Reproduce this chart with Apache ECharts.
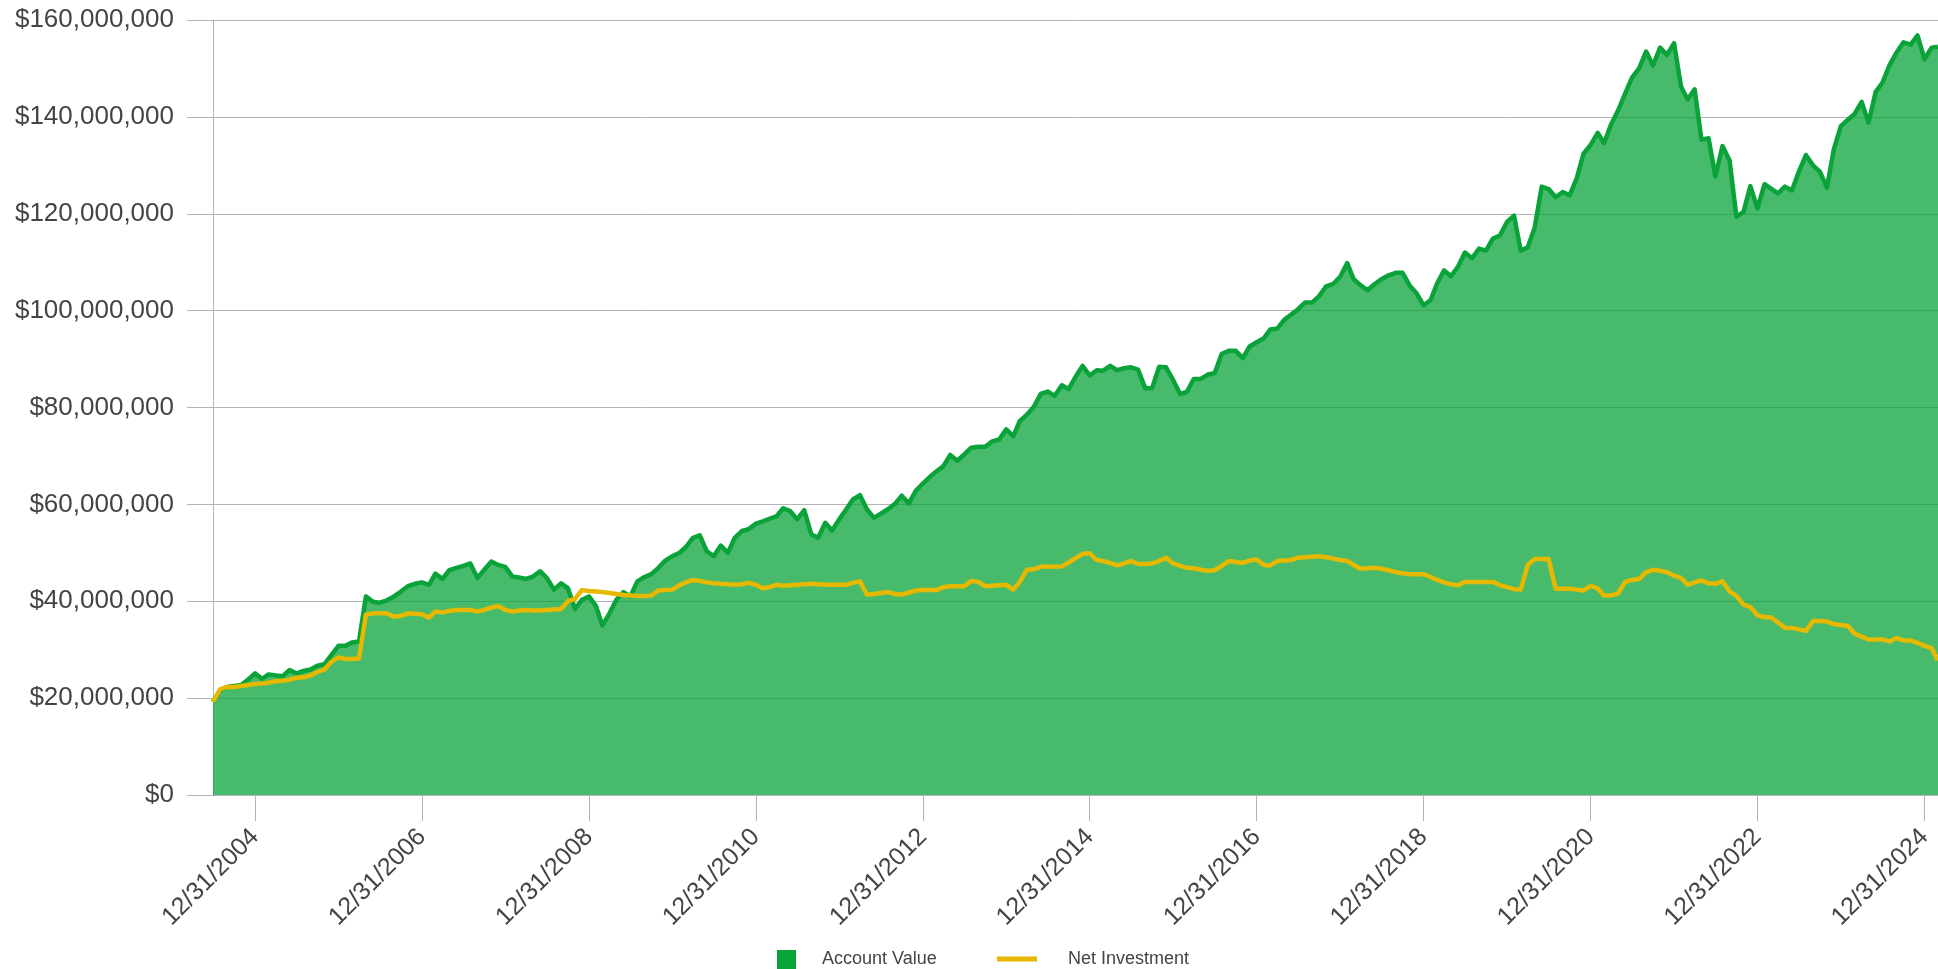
<!DOCTYPE html>
<html>
<head>
<meta charset="utf-8">
<style>
  html, body { margin: 0; padding: 0; background: #ffffff; }
  #chart { width: 1938px; height: 969px; }
</style>
<script src="https://cdn.jsdelivr.net/npm/echarts@6/dist/echarts.min.js"></script>
</head>
<body>
<div id="chart"></div>
<script>
// Monthly series, month-end values starting June 2004 (values in millions of dollars)
const startYear = 2004;
const startMonth = 6; // June

const accountValue = [
  19.2, 21.6, 22.3, 22.5, 22.7, 23.8, 25.1, 24.0, 24.9, 24.7, 24.5, 25.8,
  25.1, 25.6, 25.9, 26.7, 27.0, 28.9, 30.8, 30.8, 31.5, 31.7, 41.0, 39.9,
  39.7, 40.2, 41.0, 42.0, 43.1, 43.6, 43.9, 43.4, 45.7, 44.6, 46.4, 46.9,
  47.3, 47.8, 44.8, 46.5, 48.2, 47.5, 47.1, 45.1, 44.9, 44.6, 45.1, 46.2,
  44.8, 42.4, 43.7, 42.7, 38.4, 40.3, 41.0, 39.0, 35.0, 37.5, 40.3, 41.9,
  41.0, 44.1, 45.0, 45.6, 46.9, 48.4, 49.3, 50.0, 51.2, 53.1, 53.6, 50.3,
  49.3, 51.5, 50.0, 53.1, 54.5, 54.9, 56.0, 56.5, 57.0, 57.5, 59.2, 58.6,
  56.9, 58.8, 53.8, 53.1, 56.2, 54.6, 56.9, 59.0, 61.0, 61.9, 59.0, 57.2,
  58.1, 59.0, 60.1, 61.8, 60.2, 62.8, 64.3, 65.7, 66.8, 67.9, 70.2, 69.0,
  70.3, 71.7, 71.9, 71.9, 73.0, 73.4, 75.5, 74.1, 77.2, 78.5, 80.1, 82.8,
  83.3, 82.4, 84.6, 83.8, 86.4, 88.6, 86.6, 87.7, 87.6, 88.6, 87.7, 88.1,
  88.3, 87.8, 84.0, 84.0, 88.4, 88.3, 85.7, 82.8, 83.2, 85.9, 85.9, 86.8,
  87.1, 91.1, 91.7, 91.7, 90.2, 92.6, 93.5, 94.3, 96.1, 96.3, 98.1, 99.2,
  100.3, 101.7, 101.7, 103.0, 105.0, 105.5, 107.0, 109.8, 106.5, 105.2, 104.2, 105.5,
  106.5, 107.3, 107.8, 107.8, 105.2, 103.6, 101.1, 102.2, 105.6, 108.3, 107.1, 109.1,
  112.0, 110.8, 112.8, 112.4, 114.9, 115.5, 118.3, 119.6, 112.4, 113.1, 117.1, 125.6,
  125.1, 123.4, 124.5, 123.8, 127.3, 132.4, 134.2, 136.7, 134.6, 138.5, 141.3, 144.8,
  148.1, 150.0, 153.5, 150.6, 154.3, 152.8, 155.2, 146.2, 143.6, 145.7, 135.3, 135.6,
  127.7, 134.0, 131.0, 119.4, 120.4, 125.7, 121.1, 126.1, 125.2, 124.2, 125.6, 124.8,
  128.7, 132.1, 130.0, 128.7, 125.4, 133.3, 138.1, 139.4, 140.6, 143.1, 138.8, 145.1,
  147.1, 150.7, 153.3, 155.4, 154.9, 156.8, 151.9, 154.3, 154.5
];

const netInvestment = [
  19.2, 21.8, 22.3, 22.3, 22.5, 22.7, 22.9, 23.0, 23.2, 23.5, 23.6, 23.8,
  24.2, 24.3, 24.7, 25.4, 25.9, 27.5, 28.4, 28.1, 28.1, 28.2, 37.2, 37.5,
  37.5, 37.5, 36.8, 37.0, 37.5, 37.4, 37.3, 36.6, 37.9, 37.7, 38.0, 38.2,
  38.2, 38.2, 37.9, 38.2, 38.7, 39.0, 38.2, 37.9, 38.1, 38.2, 38.1, 38.1,
  38.2, 38.3, 38.4, 40.0, 40.5, 42.3, 42.1, 42.0, 41.9, 41.7, 41.5, 41.3,
  41.2, 41.1, 41.1, 41.2, 42.2, 42.3, 42.4, 43.3, 43.9, 44.4, 44.2, 43.9,
  43.7, 43.6, 43.5, 43.4, 43.5, 43.8, 43.4, 42.7, 42.9, 43.4, 43.2, 43.3,
  43.4, 43.5, 43.6, 43.5, 43.4, 43.4, 43.4, 43.4, 43.8, 44.1, 41.4, 41.5,
  41.7, 41.9, 41.5, 41.4, 41.8, 42.2, 42.3, 42.3, 42.3, 42.9, 43.1, 43.1,
  43.1, 44.2, 44.0, 43.1, 43.2, 43.3, 43.4, 42.4, 44.0, 46.5, 46.6, 47.1,
  47.2, 47.1, 47.2, 48.0, 48.9, 49.8, 49.9, 48.5, 48.3, 47.9, 47.4, 47.8,
  48.3, 47.7, 47.7, 47.8, 48.3, 49.0, 47.8, 47.3, 46.9, 46.8, 46.5, 46.3,
  46.4, 47.3, 48.3, 48.1, 47.9, 48.4, 48.6, 47.5, 47.4, 48.3, 48.4, 48.5,
  49.0, 49.1, 49.2, 49.3, 49.1, 48.8, 48.5, 48.3, 47.5, 46.7, 46.8, 46.9,
  46.7, 46.4, 46.0, 45.8, 45.6, 45.6, 45.6, 45.0, 44.4, 43.9, 43.5, 43.3,
  44.0, 44.0, 44.0, 44.0, 44.0, 43.3, 42.9, 42.5, 42.4, 47.5, 48.7, 48.7,
  48.7, 42.6, 42.6, 42.6, 42.4, 42.2, 43.2, 42.6, 41.2, 41.2, 41.6, 44.0,
  44.4, 44.6, 46.0, 46.5, 46.3, 46.0, 45.3, 44.8, 43.4, 43.9, 44.3, 43.7,
  43.6, 44.1, 42.0, 41.1, 39.3, 38.8, 37.1, 36.7, 36.7, 35.6, 34.5, 34.5,
  34.2, 33.9, 35.9, 35.9, 35.8, 35.3, 35.1, 34.9, 33.3, 32.7, 32.1, 32.1,
  32.1, 31.7, 32.4, 31.9, 31.9, 31.4, 30.8, 30.3, 27.8
];

// Tick label years (each label is 12/31 of that year)
const tickYears = [2004, 2006, 2008, 2010, 2012, 2014, 2016, 2018, 2020, 2022, 2024];

// Build month-end timestamps
function monthEnd(i) {
  const mi = (startMonth - 1) + i;
  const y = startYear + Math.floor(mi / 12);
  const m = mi % 12;
  return Date.UTC(y, m + 1, 0);
}
const greenData = accountValue.map((v, i) => [monthEnd(i), v * 1e6]);
const yellowData = netInvestment.map((v, i) => [monthEnd(i), v * 1e6]);
const tickValues = tickYears.map(y => Date.UTC(y, 11, 31));

const FONT = '"Liberation Sans", Arial, sans-serif';
const GREEN = '#0aa33a';
const YELLOW = '#e6b800';
const GRID = '#b4b4b4';

const chart = echarts.init(document.getElementById('chart'));
chart.setOption({
  animation: false,
  backgroundColor: '#ffffff',
  grid: {
    left: 213, right: 0, top: 20, bottom: 174,
    containLabel: false,
    outerBoundsMode: 'none'
  },
  legend: [
    {
      data: [{ name: 'Account Value', icon: 'rect', itemStyle: { color: GREEN } }],
      left: 772, top: 945,
      itemWidth: 19, itemHeight: 19,
      textStyle: { fontFamily: FONT, fontSize: 18, color: '#444', padding: [0, 0, 0, 21] },
      selectedMode: false
    },
    {
      data: [{ name: 'Net Investment', icon: 'rect', itemStyle: { color: YELLOW } }],
      left: 992, top: 945,
      itemWidth: 40, itemHeight: 5,
      textStyle: { fontFamily: FONT, fontSize: 18, color: '#444', padding: [0, 0, 0, 26] },
      selectedMode: false
    }
  ],
  xAxis: {
    type: 'value',
    min: Date.UTC(2004, 5, 30),
    max: Date.UTC(2025, 1, 28),
    axisLine: { show: true, onZero: false, lineStyle: { color: GRID, width: 1 } },
    axisTick: {
      show: true, length: 26, customValues: tickValues,
      lineStyle: { color: GRID, width: 1 }
    },
    splitLine: { show: false },
    axisLabel: {
      customValues: tickValues,
      rotate: 45,
      margin: 38,
      fontFamily: FONT,
      fontSize: 25,
      color: '#444',
      formatter: function (val) {
        const d = new Date(val);
        return (d.getUTCMonth() + 1) + '/' + d.getUTCDate() + '/' + d.getUTCFullYear();
      }
    }
  },
  yAxis: {
    type: 'value',
    min: 0, max: 160e6, interval: 20e6,
    axisLine: { show: true, lineStyle: { color: GRID, width: 1 } },
    axisTick: { show: true, length: 26, lineStyle: { color: GRID, width: 1 } },
    splitLine: { show: true, lineStyle: { color: GRID, width: 1 } },
    axisLabel: {
      margin: 39,
      fontFamily: FONT,
      fontSize: 26,
      color: '#444',
      formatter: function (v) { return '$' + Math.round(v).toLocaleString('en-US'); }
    }
  },
  series: [
    {
      name: 'Account Value',
      type: 'line',
      data: greenData,
      showSymbol: false,
      symbol: 'none',
      lineStyle: { color: GREEN, width: 4.5, join: 'round' },
      itemStyle: { color: GREEN },
      areaStyle: { color: GREEN, opacity: 0.745 },
      z: 2
    },
    {
      name: 'Net Investment',
      type: 'line',
      data: yellowData,
      showSymbol: false,
      symbol: 'none',
      lineStyle: { color: YELLOW, width: 4.5, join: 'round' },
      itemStyle: { color: YELLOW },
      z: 3
    }
  ]
});
</script>
</body>
</html>
